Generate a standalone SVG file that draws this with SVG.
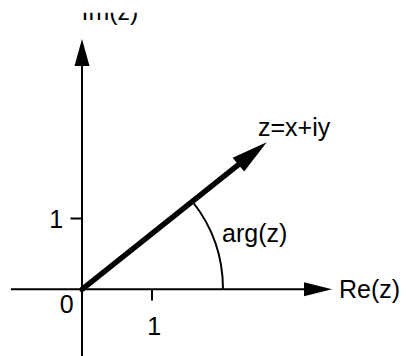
<svg xmlns="http://www.w3.org/2000/svg" width="406" height="356" viewBox="0 0 406 356">
<style>
text{font-family:"Liberation Sans",Arial,sans-serif;font-size:25px;fill:#000}
.ax{stroke:#000;stroke-width:2;fill:none}
.head{fill:#000;stroke:none}
</style>
<defs>
<clipPath id="topclip"><rect x="0" y="12.7" width="406" height="343.3"/></clipPath>
</defs>
<rect width="406" height="356" fill="#fff"/>
<g id="connectors">
<line class="ax" x1="82" y1="356" x2="82" y2="62"/>
<polygon class="head" points="82,39 74.5,66 89.5,66"/>
<line class="ax" x1="11" y1="289.3" x2="308" y2="289.3"/>
<polygon class="head" points="332,289.3 304,282.3 304,296.3"/>
<line class="ax" x1="152" y1="289.3" x2="152" y2="300.5"/>
<line class="ax" x1="70.5" y1="218.5" x2="82" y2="218.5"/>
<line x1="82" y1="289.3" x2="241" y2="162.7" stroke="#000" stroke-width="5.5" stroke-linecap="round"/>
<polygon class="head" points="266.7,142.3 232.6,157.8 244.2,171.4"/>
<path class="ax" stroke-width="1.8" d="M223 289.3 A141 141 0 0 0 192.4 201.5"/>
</g>
<g id="label-im" clip-path="url(#topclip)"><text x="81.5" y="19.5">Im(z)</text></g>
<g id="label-z"><text x="258" y="136">z=x+iy</text></g>
<g id="label-arg"><text x="222" y="242">arg(z)</text></g>
<g id="label-re"><text x="339" y="298">Re(z)</text></g>
<g id="label-1y"><text x="49.3" y="228">1</text></g>
<g id="label-0"><text x="59.7" y="313">0</text></g>
<g id="label-1x"><text x="147.3" y="335">1</text></g>
</svg>
